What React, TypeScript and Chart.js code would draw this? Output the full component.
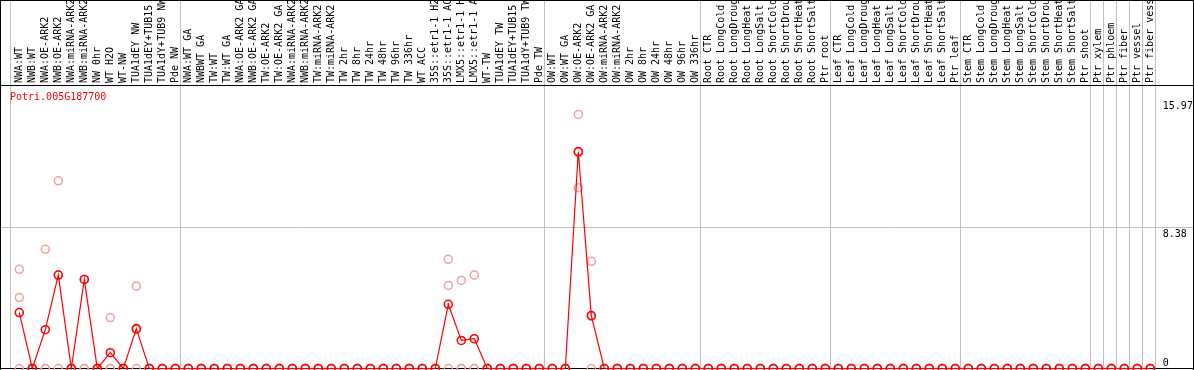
import { useEffect, useRef } from "react";
import { Chart, registerables } from "chart.js";

Chart.register(...registerables);

const geneId = "Potri.005G187700";

const categories = [
  "NWA:WT", "NWB:WT", "NWA:OE-ARK2", "NWB:OE-ARK2", "NWA:miRNA-ARK2", "NWB:miRNA-ARK2", "NW 0hr", "WT H2O", "WT-NW", "TUA1dEY NW", "TUA1dEY+TUB15 NW", "TUA1dY+TUB9 NW", "Pde NW",
  "NWA:WT GA", "NWBWT GA", "TW:WT", "TW:WT GA", "NWA:OE-ARK2 GA", "NWB:OE-ARK2 GA", "TW:OE-ARK2", "TW:OE-ARK2 GA", "NWA:miRNA-ARK2 GA", "NWB:miRNA-ARK2 GA", "TW:miRNA-ARK2", "TW:miRNA-ARK2 GA", "TW 2hr", "TW 8hr", "TW 24hr", "TW 48hr", "TW 96hr", "TW 336hr", "WT ACC", "35S::etr1-1 H2O", "35S::etr1-1 ACC", "LMX5::etr1-1 H2O", "LMX5::etr1-1 ACC", "WT-TW", "TUA1dEY TW", "TUA1dEY+TUB15 TW", "TUA1dY+TUB9 TW", "Pde TW",
  "OW:WT", "OW:WT GA", "OW:OE-ARK2", "OW:OE-ARK2 GA", "OW:miRNA-ARK2", "OW:miRNA-ARK2 GA", "OW 2hr", "OW 8hr", "OW 24hr", "OW 48hr", "OW 96hr", "OW 336hr",
  "Root CTR", "Root LongCold", "Root LongDrought", "Root LongHeat", "Root LongSalt", "Root ShortCold", "Root ShortDrought", "Root ShortHeat", "Root ShortSalt", "Ptr root",
  "Leaf CTR", "Leaf LongCold", "Leaf LongDrought", "Leaf LongHeat", "Leaf LongSalt", "Leaf ShortCold", "Leaf ShortDrought", "Leaf ShortHeat", "Leaf ShortSalt", "Ptr leaf",
  "Stem CTR", "Stem LongCold", "Stem LongDrought", "Stem LongHeat", "Stem LongSalt", "Stem ShortCold", "Stem ShortDrought", "Stem ShortHeat", "Stem ShortSalt", "Ptr shoot",
  "Ptr xylem", "Ptr phloem", "Ptr fiber", "Ptr vessel", "Ptr fiber vessel",
];

// mean expression (dark red line)
const expression = [
  3.33, 0, 2.31, 5.56, 0, 5.30, 0, 0.94, 0, 2.37, 0, 0, 0,
  0, 0, 0, 0, 0, 0, 0, 0, 0, 0, 0, 0, 0, 0, 0, 0, 0, 0, 0, 0, 3.82, 1.67, 1.77, 0, 0, 0, 0, 0,
  0, 0, 12.91, 3.15, 0, 0, 0, 0, 0, 0, 0, 0,
  0, 0, 0, 0, 0, 0, 0, 0, 0, 0,
  0, 0, 0, 0, 0, 0, 0, 0, 0, 0,
  0, 0, 0, 0, 0, 0, 0, 0, 0, 0,
  0, 0, 0, 0, 0,
];

// replicate values (light pink circles)
const replicate1 = [
  5.90, 0, 7.09, 11.17, 0, 5.30, 0, 3.03, 0, 4.90, 0, 0, 0,
  0, 0, 0, 0, 0, 0, 0, 0, 0, 0, 0, 0, 0, 0, 0, 0, 0, 0, 0, 0, 6.50, 5.24, 5.56, 0, 0, 0, 0, 0,
  0, 0, 15.12, 6.38, 0, 0, 0, 0, 0, 0, 0, 0,
  0, 0, 0, 0, 0, 0, 0, 0, 0, 0,
  0, 0, 0, 0, 0, 0, 0, 0, 0, 0,
  0, 0, 0, 0, 0, 0, 0, 0, 0, 0,
  0, 0, 0, 0, 0,
];
const replicate2 = [
  4.22, 0, 0, 5.56, 0, 0, 0, 0, 0, 2.30, 0, 0, 0,
  0, 0, 0, 0, 0, 0, 0, 0, 0, 0, 0, 0, 0, 0, 0, 0, 0, 0, 0, 0, 4.94, 0, 0, 0, 0, 0, 0, 0,
  0, 0, 10.76, 3.10, 0, 0, 0, 0, 0, 0, 0, 0,
  0, 0, 0, 0, 0, 0, 0, 0, 0, 0,
  0, 0, 0, 0, 0, 0, 0, 0, 0, 0,
  0, 0, 0, 0, 0, 0, 0, 0, 0, 0,
  0, 0, 0, 0, 0,
];
const replicate3 = [
  0, 0, 0, 0, 0, 0, 0, 0, 0, 0, 0, 0, 0,
  0, 0, 0, 0, 0, 0, 0, 0, 0, 0, 0, 0, 0, 0, 0, 0, 0, 0, 0, 0, 0, 0, 0, 0, 0, 0, 0, 0,
  0, 0, 12.85, 0, 0, 0, 0, 0, 0, 0, 0, 0,
  0, 0, 0, 0, 0, 0, 0, 0, 0, 0,
  0, 0, 0, 0, 0, 0, 0, 0, 0, 0,
  0, 0, 0, 0, 0, 0, 0, 0, 0, 0,
  0, 0, 0, 0, 0,
];

const yTickValues = [0, 8.38, 15.97];
const yGridValues = [8.38];
// group boundaries: a separator is drawn after these category indices
const groupEnds = [12, 40, 52, 62, 72, 82, 83, 84, 85, 86, 87];

const FONT = "'DejaVu Sans Mono', monospace";
const RED = "#ff0000";
const PINK = "#f2a0a0";
const GRAY = "#c0c0c0";

const decorPlugin = {
  id: "decor",
  beforeDatasetsDraw(chart: any) {
    const ctx = chart.ctx as CanvasRenderingContext2D;
    const xs = chart.scales.x;
    const ys = chart.scales.y;
    const W = chart.width;
    const area = chart.chartArea;
    ctx.save();
    ctx.lineWidth = 1;
    ctx.strokeStyle = GRAY;
    const step = xs.getPixelForValue(1) - xs.getPixelForValue(0);
    const vlines = [xs.getPixelForValue(0) - step / 2 - 2.5, ...groupEnds.map((i) => xs.getPixelForValue(i) + step / 2 - 1.5)];
    vlines.forEach((px) => {
      const x = Math.floor(px) + 0.5;
      ctx.beginPath();
      ctx.moveTo(x, 0);
      ctx.lineTo(x, area.bottom);
      ctx.stroke();
    });
    yGridValues.forEach((v) => {
      const y = Math.floor(ys.getPixelForValue(v)) + 0.5;
      ctx.beginPath();
      ctx.moveTo(0, y);
      ctx.lineTo(W, y);
      ctx.stroke();
    });
    ctx.strokeStyle = "#000";
    ctx.beginPath();
    ctx.moveTo(0, 0.5);
    ctx.lineTo(W, 0.5);
    ctx.moveTo(0, Math.floor(area.top) + 0.5);
    ctx.lineTo(W, Math.floor(area.top) + 0.5);
    ctx.moveTo(0, Math.floor(area.bottom) + 0.5);
    ctx.lineTo(W, Math.floor(area.bottom) + 0.5);
    ctx.moveTo(0.5, 0);
    ctx.lineTo(0.5, area.bottom + 2);
    ctx.moveTo(W - 0.5, 0);
    ctx.lineTo(W - 0.5, area.bottom + 2);
    ctx.stroke();
    ctx.restore();
  },
  afterDraw(chart: any) {
    const ctx = chart.ctx as CanvasRenderingContext2D;
    const ys = chart.scales.y;
    const area = chart.chartArea;
    ctx.save();
    ctx.font = `10px ${FONT}`;
    ctx.textAlign = "left";
    ctx.textBaseline = "alphabetic";
    ctx.fillStyle = RED;
    ctx.fillText(geneId, 10, area.top + 15);
    ctx.fillStyle = "#000";
    yTickValues.forEach((v) => {
      const py = ys.getPixelForValue(v);
      const baseline = v === 0 ? py - 3 : py + 9;
      ctx.fillText(String(v), area.right + 6, baseline);
    });
    ctx.restore();
  },
};

export default function App() {
  const ref = useRef<HTMLCanvasElement>(null);
  useEffect(() => {
    document.body.style.margin = "0";
    const canvas = ref.current!;
    const pointDs = (data: number[], label: string) => ({
      label,
      data,
      showLine: false,
      borderColor: PINK,
      backgroundColor: "rgba(0,0,0,0)",
      pointBorderColor: PINK,
      pointBackgroundColor: "rgba(0,0,0,0)",
      pointRadius: 4,
      pointBorderWidth: 1.5,
      clip: false as any,
      order: 2,
    });
    const chart = new Chart(canvas, {
      type: "line",
      data: {
        labels: categories,
        datasets: [
          {
            label: "mean",
            data: expression,
            borderColor: RED,
            borderWidth: 1.2,
            backgroundColor: "rgba(0,0,0,0)",
            pointBorderColor: RED,
            pointBackgroundColor: "rgba(0,0,0,0)",
            pointRadius: 4,
            pointBorderWidth: 1.6,
            tension: 0,
            clip: false as any,
            order: 0,
          },
          pointDs(replicate1, "rep1"),
          pointDs(replicate2, "rep2"),
          pointDs(replicate3, "rep3"),
        ],
      },
      options: {
        animation: false,
        responsive: false,
        devicePixelRatio: 1,
        layout: { autoPadding: false, padding: { left: 12.8, right: 0, top: 0, bottom: 1.5 } },
        plugins: { legend: { display: false }, tooltip: { enabled: false }, title: { display: false } },
        scales: {
          x: {
            type: "category",
            position: "top",
            offset: true,
            grid: { display: false, drawTicks: false },
            border: { display: false },
            ticks: {
              autoSkip: false,
              maxRotation: 90,
              minRotation: 90,
              padding: 2,
              labelOffset: 12,
              color: "#000",
              font: { family: FONT, size: 10 },
            },
            afterFit: (s: any) => {
              s.height = 85;
            },
          },
          y: {
            position: "right",
            min: 0,
            max: 16.87,
            grid: { display: false },
            border: { display: false },
            ticks: { display: false },
            afterBuildTicks: (s: any) => {
              s.ticks = yTickValues.map((v) => ({ value: v }));
            },
            afterFit: (s: any) => {
              s.width = 37.2;
            },
          },
        },
      },
      plugins: [decorPlugin],
    });
    return () => chart.destroy();
  }, []);
  return (
    <div style={{ width: 1194, height: 370 }}>
      <canvas ref={ref} width={1194} height={370} style={{ display: "block" }} />
    </div>
  );
}
